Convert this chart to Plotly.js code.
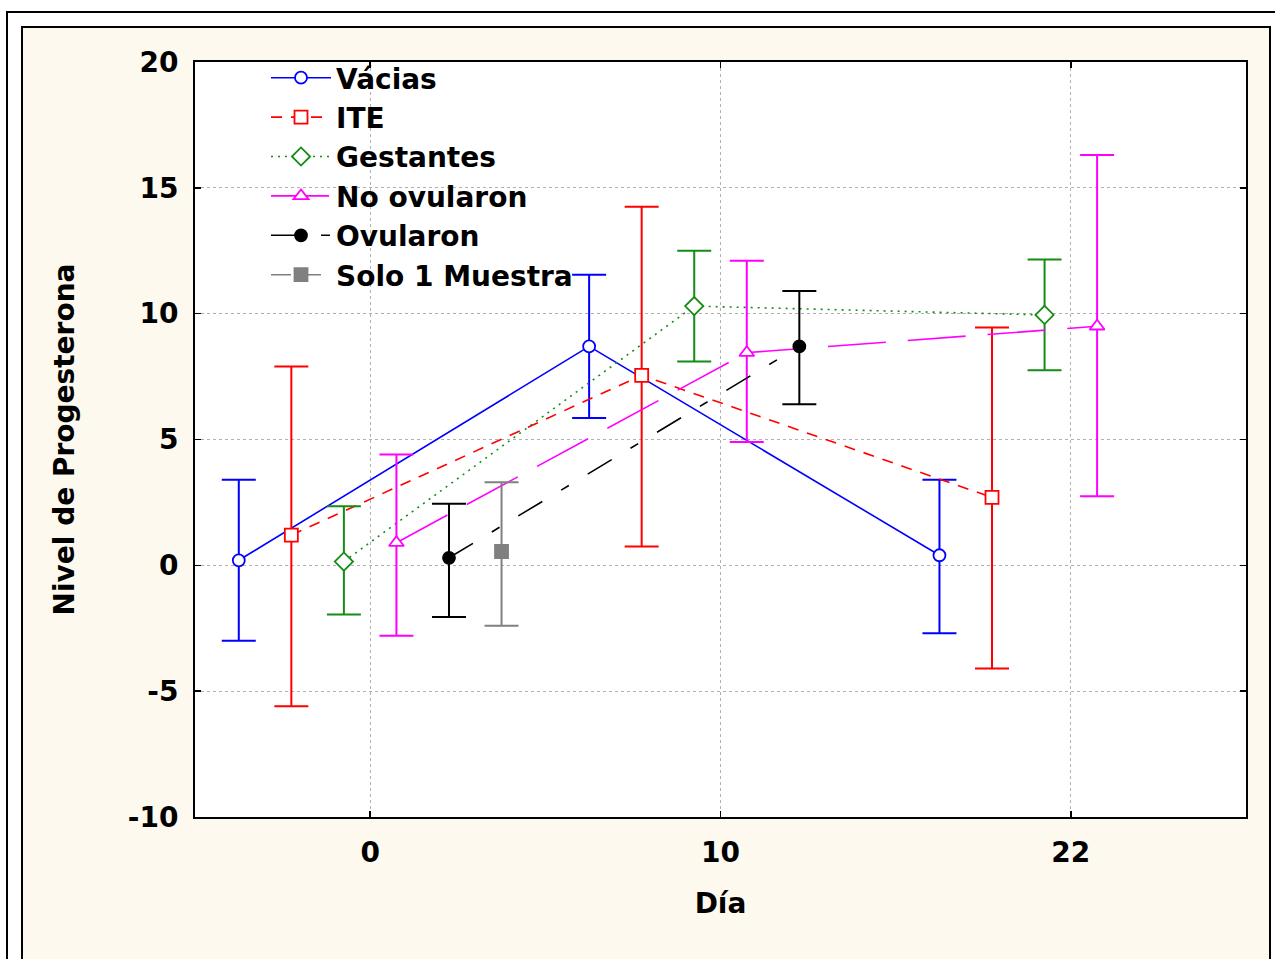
<!DOCTYPE html>
<html>
<head>
<meta charset="utf-8">
<script src="https://cdn.plot.ly/plotly-3.0.1.min.js"></script>
<style>
  html, body { margin: 0; padding: 0; background: #ffffff; }
  #chart { width: 1275px; height: 959px; }
</style>
</head>
<body>
<div id="chart"></div>
<script>
// ---- Data ----
const dayLabels = ['0', '10', '22'];
const dayIndex = [0, 1, 2];
const yTickValues = [-10, -5, 0, 5, 10, 15, 20];
const yTickLabels = ['-10', '-5', '0', '5', '10', '15', '20'];

const seriesNames = ['Vácias', 'ITE', 'Gestantes', 'No ovularon', 'Ovularon', 'Solo 1 Muestra'];

const vaciasMean  = [0.2, 8.7, 0.4];
const vaciasUpper = [3.4, 11.55, 3.4];
const vaciasLower = [-3.0, 5.85, -2.7];

const iteMean  = [1.2, 7.55, 2.7];
const iteUpper = [7.9, 14.25, 9.45];
const iteLower = [-5.6, 0.75, -4.1];

const gestMean  = [0.15, 10.3, 9.95];
const gestUpper = [2.35, 12.5, 12.15];
const gestLower = [-1.95, 8.1, 7.75];

const noOvMean  = [0.9, 8.45, 9.5];
const noOvUpper = [4.4, 12.1, 16.3];
const noOvLower = [-2.8, 4.9, 2.75];

const ovMean  = [0.3, 8.7];
const ovUpper = [2.45, 10.9];
const ovLower = [-2.05, 6.4];

const soloMean  = [0.55];
const soloUpper = [3.3];
const soloLower = [-2.4];

// ---- Styling ----
const offsets = [-0.375, -0.225, -0.075, 0.075, 0.225, 0.375];
const colors = ['#0000FF', '#FF0000', '#158C15', '#FF00FF', '#000000', '#808080'];
const dashes = ['solid', '11px,9px', '2px,5px', '58px,22px', '28px,22px,9px,22px', '20px,10px'];
const symbols = ['circle', 'square', 'diamond', 'triangle-up', 'circle', 'square'];
const fills = ['#FFFFFF', '#FFFFFF', '#FFFFFF', '#FFFFFF', '#000000', '#808080'];
const msizes = [12, 13, 14, 13, 12, 13];

const means = [vaciasMean, iteMean, gestMean, noOvMean, ovMean, soloMean];
const uppers = [vaciasUpper, iteUpper, gestUpper, noOvUpper, ovUpper, soloUpper];
const lowers = [vaciasLower, iteLower, gestLower, noOvLower, ovLower, soloLower];

const traces = seriesNames.map((name, i) => {
  const m = means[i];
  const xs = m.map((_, k) => dayIndex[k] + offsets[i]);
  return {
    type: 'scatter',
    mode: 'lines+markers',
    name: name,
    legendgroup: 'g' + i,
    x: xs,
    y: m,
    line: { color: colors[i], width: 1.6, dash: dashes[i] },
    marker: { symbol: symbols[i], size: msizes[i], color: fills[i],
              line: { color: colors[i], width: 1.8 } },
    error_y: {
      type: 'data', symmetric: false,
      array: m.map((v, k) => uppers[i][k] - v),
      arrayminus: m.map((v, k) => v - lowers[i][k]),
      color: colors[i], thickness: 2, width: 17
    },
    cliponaxis: false
  };
});

// pixel -> paper helpers for the frame decoration
const L = 195, R = 29, T = 62, B = 142, W = 1275, H = 959;
const pw = W - L - R, ph = H - T - B;
const fx = px => (px - L) / pw;
const fy = py => (H - B - py) / ph;

const boldFont = (size) => ({ family: 'DejaVu Sans, Verdana, sans-serif', size: size, color: '#000', weight: 'bold' });

const layout = {
  width: W, height: H,
  margin: { l: L, r: R, t: T, b: B, pad: 0 },
  paper_bgcolor: '#FDF9EE',
  plot_bgcolor: '#FFFFFF',
  showlegend: true,
  legend: {
    x: fx(266), y: fy(53), xanchor: 'left', yanchor: 'top',
    bgcolor: 'rgba(0,0,0,0)', borderwidth: 0,
    font: boldFont(28), tracegroupgap: 0, itemwidth: 60
  },
  xaxis: {
    range: [-0.5, 2.5],
    tickvals: dayIndex, ticktext: dayLabels,
    tickfont: boldFont(28),
    ticks: 'inside', ticklen: 6, tickwidth: 1.5, tickcolor: '#000',
    showline: true, linecolor: '#000', linewidth: 2, mirror: 'ticks',
    showgrid: true, gridcolor: '#B0B0B0', griddash: 'dot', gridwidth: 1,
    zeroline: false, ticklabelstandoff: 9,
    title: { text: 'Día', font: boldFont(28), standoff: 26 }
  },
  yaxis: {
    range: [-10, 20],
    tickvals: yTickValues, ticktext: yTickLabels,
    tickfont: boldFont(28),
    ticks: 'inside', ticklen: 6, tickwidth: 1.5, tickcolor: '#000',
    showline: true, linecolor: '#000', linewidth: 2, mirror: 'ticks',
    showgrid: true, gridcolor: '#B0B0B0', griddash: 'dot', gridwidth: 1,
    zeroline: false, ticklabelstandoff: 9,
    title: { text: 'Nivel de Progesterona', font: boldFont(28), standoff: 45 }
  },
  shapes: [
    { type: 'rect', xref: 'paper', yref: 'paper', layer: 'below',
      x0: fx(-5), x1: fx(22), y0: fy(-5), y1: fy(H + 20), fillcolor: '#FFFFFF', line: { width: 0 } },
    { type: 'rect', xref: 'paper', yref: 'paper', layer: 'below',
      x0: fx(-5), x1: fx(W + 20), y0: fy(-5), y1: fy(27), fillcolor: '#FFFFFF', line: { width: 0 } },
    { type: 'rect', xref: 'paper', yref: 'paper', layer: 'below',
      x0: fx(1270), x1: fx(W + 20), y0: fy(-5), y1: fy(H + 20), fillcolor: '#FFFFFF', line: { width: 0 } },
    { type: 'rect', xref: 'paper', yref: 'paper', layer: 'below',
      x0: fx(7), x1: fx(W + 40), y0: fy(12), y1: fy(H + 40), line: { color: '#000', width: 2 } },
    { type: 'rect', xref: 'paper', yref: 'paper', layer: 'below',
      x0: fx(22), x1: fx(1270), y0: fy(27), y1: fy(H + 40), line: { color: '#000', width: 2 } }
  ]
};

Plotly.newPlot('chart', traces, layout, { displayModeBar: false, staticPlot: true });
</script>
</body>
</html>
